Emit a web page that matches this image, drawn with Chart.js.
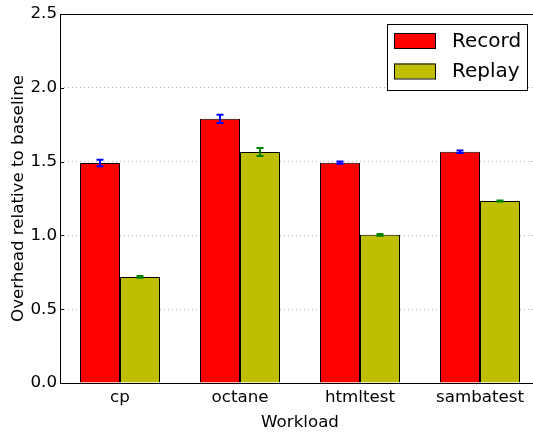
<!DOCTYPE html>
<html>
<head>
<meta charset="utf-8">
<script src="https://cdn.jsdelivr.net/npm/chart.js@4"></script>
<style>
  html, body { margin: 0; padding: 0; background: #fff; overflow: hidden; }
  #wrap { width: 545px; height: 432px; }
</style>
</head>
<body>
<div id="wrap"><canvas id="chartOverhead"></canvas></div>
<script>
// datos
const workloads = ['cp', 'octane', 'htmltest', 'sambatest'];
const recordVals = [1.49, 1.79, 1.493, 1.567];
const recordErr = [0.022, 0.028, 0.008, 0.008];
const replayVals = [0.719, 1.565, 1.004, 1.233];
const replayErr = [0.006, 0.027, 0.006, 0.004];
const yTicks = [0, 0.5, 1.0, 1.5, 2.0, 2.5];

const FONT = 'DejaVu Sans';

// barras de error (color por serie)
const errorBars = {
    id: 'errorBars',
    afterDatasetsDraw(chart) {
        const ctx = chart.ctx;
        const y = chart.scales.y;
        chart.data.datasets.forEach((ds, i) => {
            const meta = chart.getDatasetMeta(i);
            meta.data.forEach((bar, j) => {
                const v = ds.data[j], e = ds.errors[j];
                const top = y.getPixelForValue(v + e);
                const bot = y.getPixelForValue(v - e);
                ctx.save();
                ctx.strokeStyle = ds.errorColor;
                ctx.lineWidth = 2;
                ctx.beginPath();
                ctx.moveTo(bar.x, top); ctx.lineTo(bar.x, bot);
                ctx.moveTo(bar.x - 3.5, top); ctx.lineTo(bar.x + 3.5, top);
                ctx.moveTo(bar.x - 3.5, bot); ctx.lineTo(bar.x + 3.5, bot);
                ctx.stroke();
                ctx.restore();
            });
        });
    }
};

// marco de los ejes y leyenda tipo matplotlib
const frameAndLegend = {
    id: 'frameAndLegend',
    afterDraw(chart) {
        const ctx = chart.ctx;
        const a = chart.chartArea;
        const y = chart.scales.y;
        ctx.save();
        ctx.strokeStyle = '#000';
        ctx.lineWidth = 1;
        ctx.beginPath();
        ctx.moveTo(a.right, a.top + 0.5); ctx.lineTo(a.left + 0.5, a.top + 0.5);
        ctx.lineTo(a.left + 0.5, a.bottom + 0.5); ctx.lineTo(a.right, a.bottom + 0.5);
        // marcas hacia dentro en el eje y
        yTicks.forEach(v => {
            const py = Math.round(y.getPixelForValue(v)) + 0.5;
            ctx.moveTo(a.left, py); ctx.lineTo(a.left + 4, py);
        });
        ctx.stroke();

        // leyenda
        const bx = a.right - 153, by = a.top + 10, bw = 140, bh = 66;
        ctx.fillStyle = '#fff';
        ctx.fillRect(bx, by, bw, bh);
        ctx.strokeRect(bx + 0.5, by + 0.5, bw, bh);
        ctx.font = '20px "' + FONT + '"';
        ctx.textBaseline = 'middle';
        chart.data.datasets.forEach((ds, i) => {
            const cy = by + 16.5 + i * 30.5;
            ctx.fillStyle = ds.backgroundColor;
            ctx.fillRect(bx + 7, cy - 7.5, 41, 15);
            ctx.strokeRect(bx + 7.5, cy - 7, 41, 15);
            ctx.fillStyle = '#000';
            ctx.fillText(ds.label, bx + 65, cy + 1);
        });
        ctx.restore();
    }
};

const ctxOverhead = document.getElementById('chartOverhead').getContext('2d');
const overheadChart = new Chart(ctxOverhead, {
    type: 'bar',
    data: {
        labels: workloads,
        datasets: [{
            label: 'Record',
            data: recordVals,
            errors: recordErr,
            errorColor: '#0000ff',
            backgroundColor: '#ff0000',
            borderColor: '#000',
            borderWidth: 1
        }, {
            label: 'Replay',
            data: replayVals,
            errors: replayErr,
            errorColor: '#008000',
            backgroundColor: '#bfbf00',
            borderColor: '#000',
            borderWidth: 1
        }]
    },
    options: {
        responsive: true,
        maintainAspectRatio: false,
        animation: false,
        categoryPercentage: 2 / 3,
        barPercentage: 1.0,
        layout: { padding: { top: 14, right: 5, left: 0, bottom: 0 } },
        plugins: {
            legend: { display: false },
            tooltip: { enabled: false }
        },
        scales: {
            x: {
                offset: true,
                grid: { display: false, drawTicks: false },
                border: { display: false },
                ticks: { color: '#000', padding: 5, font: { family: FONT, size: 16.7 } },
                title: {
                    display: true,
                    text: 'Workload',
                    color: '#000',
                    padding: { top: 0, bottom: -1 },
                    font: { family: FONT, size: 16.7 }
                },
                afterFit: s => { s.height = 49; }
            },
            y: {
                min: 0,
                max: 2.5,
                afterBuildTicks: s => { s.ticks = yTicks.map(v => ({ value: v })); },
                grid: { color: '#b0b0b0', drawTicks: false },
                border: { display: false, dash: [1, 3] },
                ticks: {
                    color: '#000',
                    padding: 3,
                    font: { family: FONT, size: 16.7 },
                    callback: v => v.toFixed(1)
                },
                title: {
                    display: true,
                    text: 'Overhead relative to baseline',
                    color: '#000',
                    padding: { top: 9, bottom: 0 },
                    font: { family: FONT, size: 16.7 }
                },
                afterFit: s => { s.width = 60; }
            }
        }
    },
    plugins: [errorBars, frameAndLegend]
});
</script>
</body>
</html>
